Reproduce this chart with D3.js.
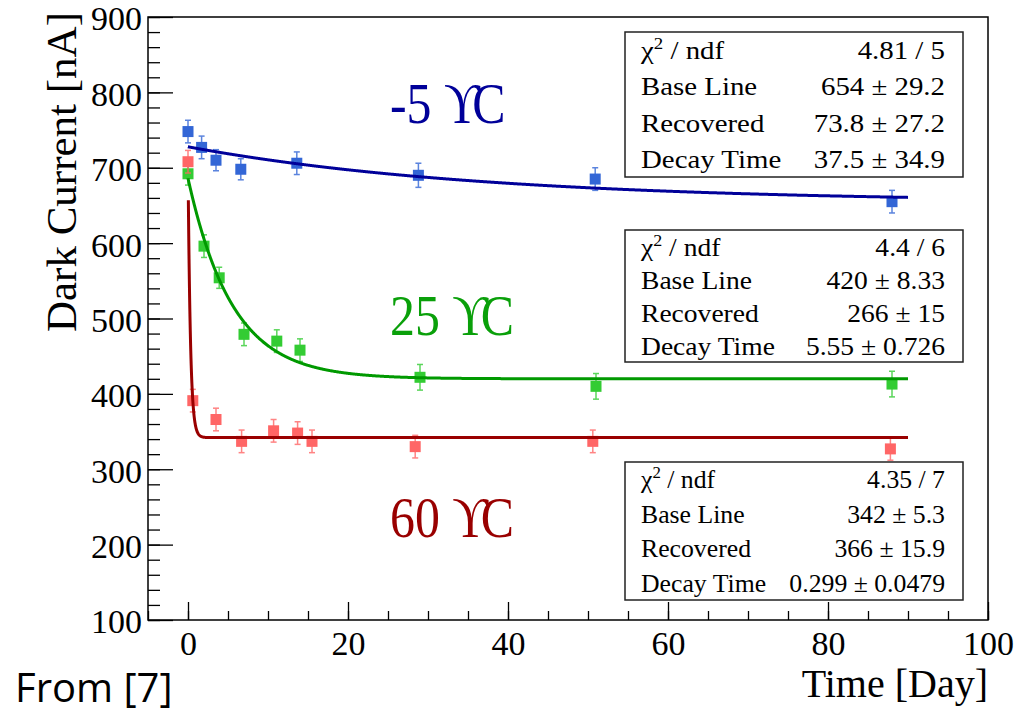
<!DOCTYPE html>
<html lang="en">
<head>
<meta charset="UTF-8">
<title>Dark Current</title>
<script src="https://cdn.jsdelivr.net/npm/d3@7"></script>
<style>
  body { margin: 0; background: #fff; }
</style>
</head>
<body>
<script>
const dayBlue = [0, 1.7, 3.5, 6.6, 13.6, 28.8, 50.9, 88.0];
const curBlue = [748, 727, 710, 698, 706, 690, 685, 655];
const errBlue = [15, 15, 14, 14, 15, 16, 15, 15];

const dayGreen = [0, 2.0, 3.9, 7.0, 11.1, 14.0, 29.0, 51.0, 88.0];
const curGreen = [692, 596, 554, 479, 470, 458, 422, 410, 413];
const errGreen = [15, 15, 14, 15, 15, 15, 17, 17, 17];

const dayRed = [0, 0.6, 3.5, 6.7, 10.7, 13.7, 15.5, 28.4, 50.6, 87.8];
const curRed = [708, 391, 366, 337, 351, 348, 337, 330, 337, 327];
const errRed = [15, 15, 15, 15, 15, 15, 15, 15, 15, 15];

// fit results shown in the stat boxes: base + recovered * exp(-t / tau)
const fitBase = [654, 420, 342];
const fitRecovered = [73.8, 266, 366];
const fitTau = [37.5, 5.55, 0.299];
const fitFrom = [0, 0, 0.045];
const fitTo = [90, 90, 90];

const statNames = ["Base Line", "Recovered", "Decay Time"];
const statChi = ["4.81 / 5", "4.4 / 6", "4.35 / 7"];
const statBase = ["654 \u00b1 29.2", "420 \u00b1 8.33", "342 \u00b1 5.3"];
const statRec = ["73.8 \u00b1 27.2", "266 \u00b1 15", "366 \u00b1 15.9"];
const statTau = ["37.5 \u00b1 34.9", "5.55 \u00b1 0.726", "0.299 \u00b1 0.0479"];

const tempLabels = ["-5 \u03d2C", "25 \u03d2C", "60 \u03d2C"];

const xTicks = [0, 20, 40, 60, 80, 100];
const yTicks = [100, 200, 300, 400, 500, 600, 700, 800, 900];

const w = 1018, h = 717;
const padL = 148, padR = 988, padT = 17, padB = 620;
const serif = "'Liberation Serif', 'Times New Roman', serif";

const markerCol = ["#3366d6", "#33cc33", "#ff6666"];
const lineCol = ["#000099", "#009900", "#990000"];
const labelCol = ["#000099", "#0aa00a", "#990000"];

const x = d3.scaleLinear().domain([-5, 100]).range([padL, padR]);
const y = d3.scaleLinear().domain([100, 900]).range([padB, padT]);

const svg = d3.select("body").append("svg")
  .attr("width", w).attr("height", h);

svg.append("rect").attr("width", w).attr("height", h).attr("fill", "#fff");

// minor ticks first
svg.append("g")
  .attr("transform", `translate(0,${padB})`)
  .call(d3.axisBottom(x).tickValues(d3.range(-5, 101, 5)).tickSize(-9).tickFormat(""))
  .call(g => g.select(".domain").remove())
  .call(g => g.selectAll("line").attr("stroke", "#000").attr("stroke-width", 1.3));

svg.append("g")
  .attr("transform", `translate(${padL},0)`)
  .call(d3.axisLeft(y).tickValues(d3.range(100, 901, 20)).tickSize(-12).tickFormat(""))
  .call(g => g.select(".domain").remove())
  .call(g => g.selectAll("line").attr("stroke", "#000").attr("stroke-width", 1.3));

// major ticks + labels
svg.append("g")
  .attr("transform", `translate(0,${padB})`)
  .call(d3.axisBottom(x).tickValues(xTicks).tickSize(-18).tickPadding(11))
  .call(g => g.select(".domain").remove())
  .call(g => g.selectAll("line").attr("stroke", "#000").attr("stroke-width", 1.3))
  .call(g => g.selectAll("text").attr("fill", "#000")
    .style("font-family", serif).style("font-size", "34px"));

svg.append("g")
  .attr("transform", `translate(${padL},0)`)
  .call(d3.axisLeft(y).tickValues(yTicks).tickSize(-25).tickPadding(6))
  .call(g => g.select(".domain").remove())
  .call(g => g.selectAll("line").attr("stroke", "#000").attr("stroke-width", 1.3))
  .call(g => g.selectAll("text").attr("fill", "#000")
    .attr("dy", "0.38em")
    .style("font-family", serif).style("font-size", "34px"));

// frame
svg.append("rect")
  .attr("x", padL).attr("y", padT)
  .attr("width", padR - padL).attr("height", padB - padT)
  .attr("fill", "none").attr("stroke", "#000").attr("stroke-width", 1.5);

// axis titles
svg.append("text")
  .attr("transform", `translate(76,12) rotate(-90)`)
  .attr("text-anchor", "end")
  .style("font-family", serif).style("font-size", "43px")
  .text("Dark Current [nA]");

svg.append("text")
  .attr("x", 988).attr("y", 697)
  .attr("text-anchor", "end")
  .style("font-family", serif).style("font-size", "40px")
  .text("Time [Day]");

svg.append("text")
  .attr("x", 15).attr("y", 702)
  .style("font-family", "'Open Sans', 'Liberation Sans', sans-serif")
  .style("font-size", "40px")
  .text("From [7]");

// data points
const series = [
  {day: dayBlue, cur: curBlue, err: errBlue},
  {day: dayGreen, cur: curGreen, err: errGreen},
  {day: dayRed, cur: curRed, err: errRed}
];

series.forEach((s, k) => {
  const pts = s.day.map((d, i) => ({t: d, v: s.cur[i], e: s.err[i]}));
  const g = svg.append("g");
  const eb = g.selectAll(".eb").data(pts).enter().append("g")
    .attr("stroke", markerCol[k]).attr("stroke-width", 1.5).attr("opacity", 0.8);
  eb.append("line")
    .attr("x1", d => x(d.t)).attr("x2", d => x(d.t))
    .attr("y1", d => y(d.v + d.e)).attr("y2", d => y(d.v - d.e));
  eb.append("line")
    .attr("x1", d => x(d.t) - 3).attr("x2", d => x(d.t) + 3)
    .attr("y1", d => y(d.v + d.e)).attr("y2", d => y(d.v + d.e));
  eb.append("line")
    .attr("x1", d => x(d.t) - 3).attr("x2", d => x(d.t) + 3)
    .attr("y1", d => y(d.v - d.e)).attr("y2", d => y(d.v - d.e));
  g.selectAll("rect").data(pts).enter().append("rect")
    .attr("x", d => x(d.t) - 5.5).attr("y", d => y(d.v) - 5.5)
    .attr("width", 11).attr("height", 11)
    .attr("fill", markerCol[k]);
});

// fit curves
const line = d3.line().x(d => x(d[0])).y(d => y(d[1]));
fitBase.forEach((b, k) => {
  const n = 1500;
  const pts = d3.range(n + 1).map(i => {
    const t = fitFrom[k] + (fitTo[k] - fitFrom[k]) * Math.pow(i / n, 2);
    return [t, b + fitRecovered[k] * Math.exp(-t / fitTau[k])];
  });
  svg.append("path").datum(pts)
    .attr("d", line)
    .attr("fill", "none")
    .attr("stroke", lineCol[k])
    .attr("stroke-width", 3);
});

// temperature labels (the odd glyph sits squeezed into the C, as in the original)
const labelY = [123, 335, 537];
tempLabels.forEach((lab, k) => {
  svg.append("text")
    .attr("transform", `translate(390,${labelY[k]}) scale(0.86,1)`)
    .attr("dx", "0 0 0 0 -9")
    .style("font-family", serif).style("font-size", "58px")
    .attr("fill", labelCol[k])
    .text(lab);
});

// stat boxes
const boxY = [32, 230, 462];
const boxH = [145, 132, 138];
const stretch = [1.11, 1.06, 0.99];
boxY.forEach((by, k) => {
  const g = svg.append("g");
  g.append("rect")
    .attr("x", 625).attr("y", by)
    .attr("width", 338).attr("height", boxH[k])
    .attr("fill", "#fff").attr("stroke", "#222").attr("stroke-width", 1.5);
  const rh = boxH[k] / 4;
  const vals = [statChi[k], statBase[k], statRec[k], statTau[k]];
  vals.forEach((v, i) => {
    const base = by + rh * (i + 0.5) + 9;
    const tl = g.append("text")
      .attr("transform", `translate(641,${base}) scale(${stretch[k]},1)`)
      .style("font-family", serif).style("font-size", "26px");
    if (i === 0) {
      tl.append("tspan").text("\u03c7");
      tl.append("tspan").attr("dy", -10).style("font-size", "17px").text("2");
      tl.append("tspan").attr("dy", 10).text(" / ndf");
    } else {
      tl.text(statNames[i - 1]);
    }
    g.append("text")
      .attr("transform", `translate(945,${base}) scale(${stretch[k]},1)`)
      .attr("text-anchor", "end")
      .style("font-family", serif).style("font-size", "26px")
      .text(v);
  });
});
</script>
</body>
</html>
